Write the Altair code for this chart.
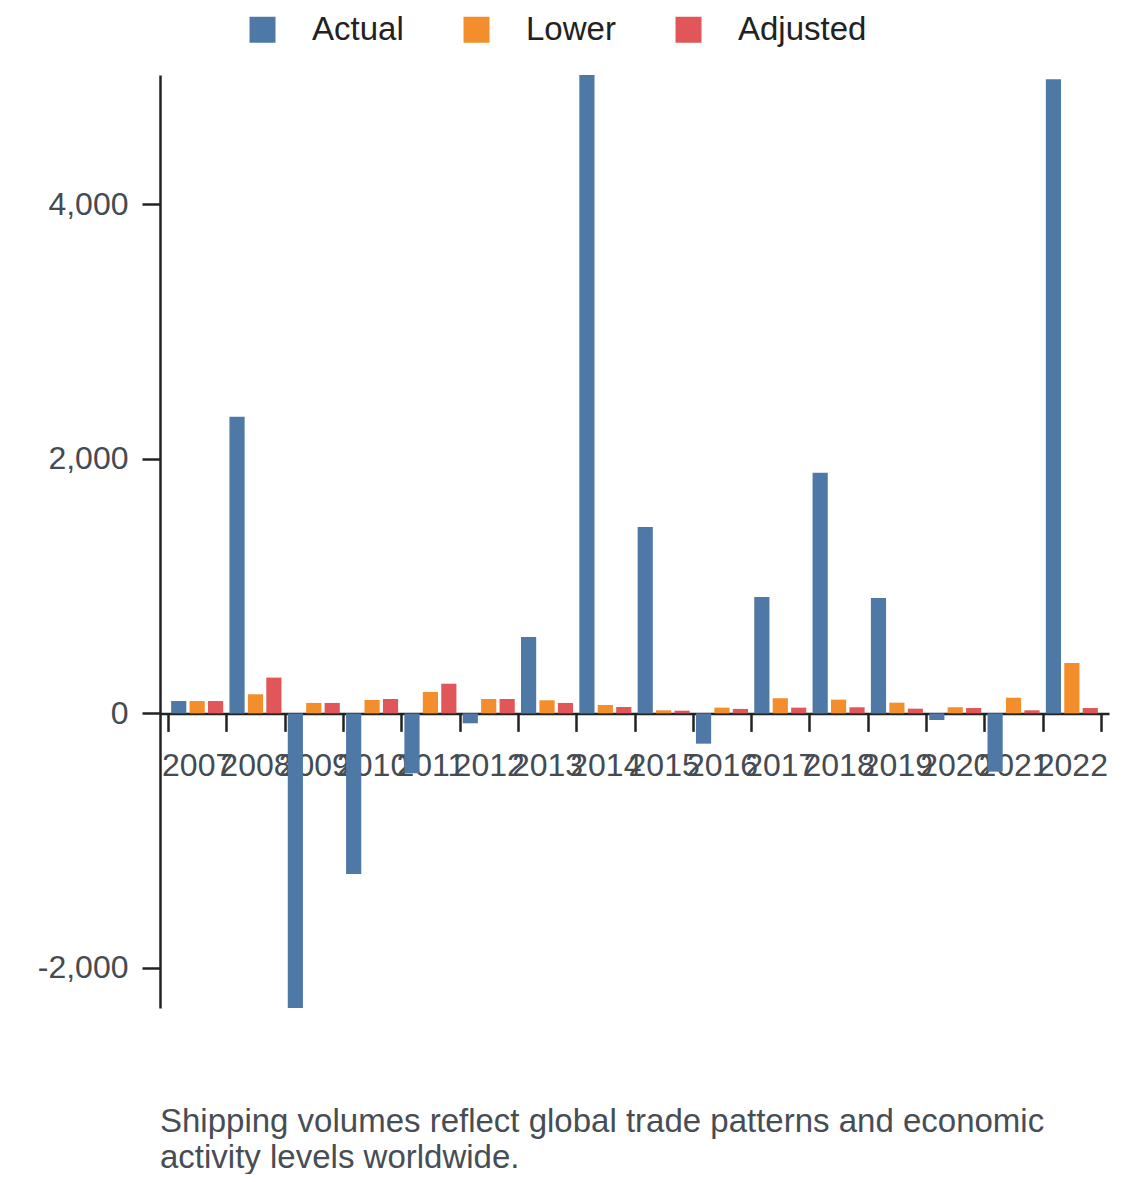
import altair as alt
import pandas as pd

years = [str(y) for y in range(2007, 2023)]
actual = [97, 2330, -2315, -1262, -470, -78, 600, 5016, 1465, -238, 915, 1890, 907, -52, -458, 4982]
lower = [97, 150, 82, 105, 168, 113, 103, 66, 24, 45, 119, 108, 84, 48, 123, 396]
adjusted = [97, 281, 82, 113, 233, 113, 82, 50, 21, 35, 45, 48, 37, 42, 24, 42]
series = ["Actual", "Lower", "Adjusted"]
colors = ["#4e79a7", "#f28e2b", "#e15759"]
y_ticks = [-2000, 0, 2000, 4000]
caption = ["Shipping volumes reflect global trade patterns and economic",
           "activity levels worldwide."]

rows = []
for i, yr in enumerate(years):
    for s, vals in zip(series, [actual, lower, adjusted]):
        rows.append({"year": yr, "series": s, "value": vals[i]})
df = pd.DataFrame(rows)

W, H = 949, 933
ymin, ymax = min(actual), max(actual)
zero_offset = -H * (0 - ymin) / (ymax - ymin)

FONT = "Liberation Sans"

chart = alt.Chart(df).mark_bar(clip=True).encode(
    x=alt.X("year:N", sort=years,
            scale=alt.Scale(paddingInner=0, paddingOuter=0.137),
            axis=alt.Axis(title=None, labelAngle=0, labelOverlap=False, labelBound=False,
                          tickBand="extent", offset=zero_offset, labelPadding=19.5)),
    xOffset=alt.XOffset("series:N", sort=series,
                        scale=alt.Scale(paddingInner=0.176, paddingOuter=0.17)),
    y=alt.Y("value:Q", scale=alt.Scale(domain=[ymin, ymax], nice=False, zero=False),
            axis=alt.Axis(title=None, values=y_ticks, labelPadding=14,
                          labelExpr="replace(format(datum.value, ',.0f'), '\u2212', '-')")),
    color=alt.Color("series:N", sort=series,
                    scale=alt.Scale(domain=series, range=colors),
                    legend=alt.Legend(title=None, orient="none", legendX=86, legendY=-62,
                                      direction="horizontal", symbolType="square",
                                      symbolSize=676, symbolStrokeWidth=0,
                                      labelFontSize=33, labelOffset=33, columnPadding=56,
                                      padding=0, labelColor="#222", labelFont=FONT)),
).properties(
    width=W, height=H,
    autosize=alt.AutoSizeParams(type="none"),
    padding={"left": 152, "top": 67, "right": 23, "bottom": 166},
    title=alt.TitleParams(text=caption, orient="bottom", anchor="start", frame="group",
                          fontSize=33, fontWeight="normal", color="#474d55", font=FONT,
                          offset=98, lineHeight=36),
).configure_view(stroke=None).configure_axis(
    grid=False, domainColor="#222", domainWidth=2.5, tickColor="#222", tickWidth=2.5,
    tickSize=18, labelFontSize=32, labelColor="#454b53", labelFont=FONT,
)

chart.save("out.html", embed_options={"renderer": "svg", "actions": False})
